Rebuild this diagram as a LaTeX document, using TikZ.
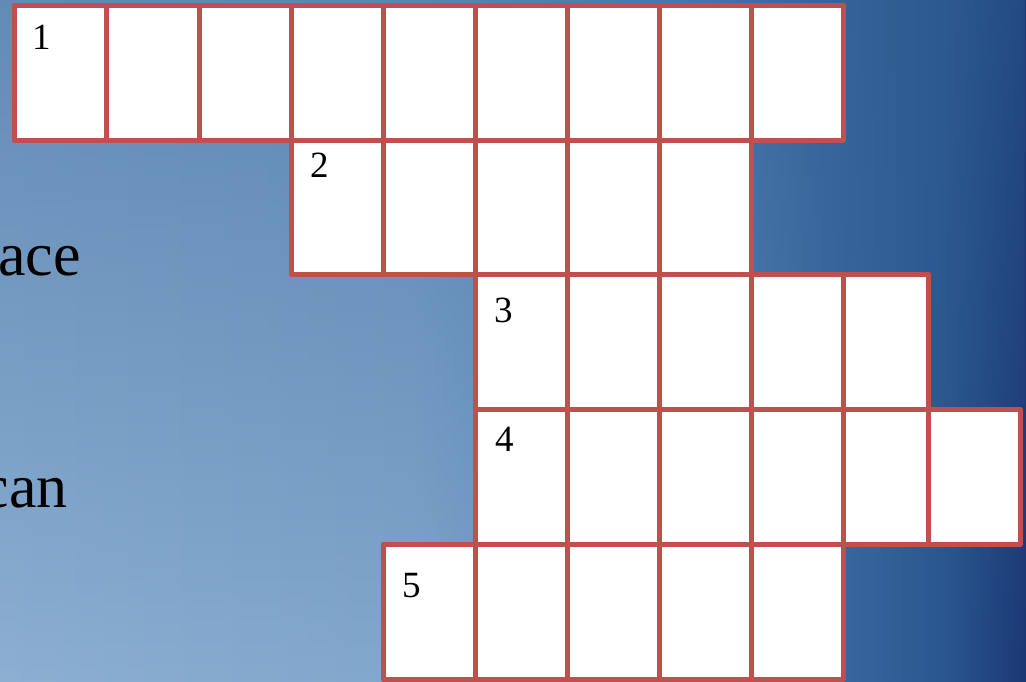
\documentclass[tikz,border=0pt]{standalone}
\usepackage{fontspec}
\setmainfont{Liberation Serif}
\newfontfamily\timesfont{Liberation Serif}
\usetikzlibrary{fadings}
\definecolor{gridred}{HTML}{C0504D}
\definecolor{bgA}{HTML}{8CAFD2}
\definecolor{bgB}{HTML}{82A7CC}
\definecolor{bgC}{HTML}{5E8BBB}
\definecolor{bgD}{HTML}{3C6BA2}
\definecolor{bgE}{HTML}{2A568F}
\definecolor{bgF}{HTML}{1B3875}
\definecolor{bgTop}{HTML}{2F5F92}
\pgfdeclarehorizontalshading{bgshade}{100bp}{color(0bp)=(bgA); color(25bp)=(bgA); color(45bp)=(bgB); color(58bp)=(bgC); color(65bp)=(bgD); color(71bp)=(bgE); color(75bp)=(bgF); color(100bp)=(bgF)}
\tikzset{
  cellbox/.style={draw=gridred, fill=white, line width=5pt, line join=round, inner sep=0pt, outer sep=0pt},
  numlabel/.style={inner sep=0pt, font=\timesfont\fontsize{37}{40}\selectfont, text=black},
  cluetext/.style={inner sep=0pt, font=\timesfont\fontsize{62}{70}\selectfont, text=black}
}
\newcommand\xwcell[5]{\node[cellbox, minimum width={(#4-#2)*1pt}, minimum height={(#5-#3)*1pt}] (#1) at ({(#2+#4)/2},{(#3+#5)/2}) {};}
\begin{document}
\begin{tikzpicture}[x=1pt,y=-1pt]
\useasboundingbox (0,0) rectangle (1026,681);
\clip (0,0) rectangle (1026,681);
\shade[shading=bgshade] (0,0) rectangle (1026,681);
\fill[bgTop, path fading=south, opacity=0.45] (0,0) rectangle (1026,681);
% clue fragments
\node[cluetext, anchor=base east] (t1) at (81,275) {ace};
\node[cluetext, anchor=base east] (t2) at (68,507) {can};
% row 1
\foreach \a/\b [count=\i] in {14/106,106/199,199/291,291/383,383/475,475/567,567/659,659/751,751/843}
  {\xwcell{r1c\i}{\a}{5}{\b}{140}}
% row 2
\foreach \a/\b [count=\i] in {291/383,383/475,475/567,567/659,659/751}
  {\xwcell{r2c\i}{\a}{140}{\b}{274}}
% row 3
\foreach \a/\b [count=\i] in {475/567,567/659,659/751,751/843,843/928}
  {\xwcell{r3c\i}{\a}{274}{\b}{409}}
% row 4
\foreach \a/\b [count=\i] in {475/567,567/659,659/751,751/843,843/928,928/1020}
  {\xwcell{r4c\i}{\a}{409}{\b}{544}}
% row 5
\foreach \a/\b [count=\i] in {383/475,475/567,567/659,659/751,751/843}
  {\xwcell{r5c\i}{\a}{544}{\b}{679}}
% numbers
\node[numlabel, anchor=base west] (n1) at (32,49) {1};
\node[numlabel, anchor=base west] (n2) at (310,177) {2};
\node[numlabel, anchor=base west] (n3) at (494,322) {3};
\node[numlabel, anchor=base west] (n4) at (495,451) {4};
\node[numlabel, anchor=base west] (n5) at (402,597) {5};
\end{tikzpicture}
\end{document}
